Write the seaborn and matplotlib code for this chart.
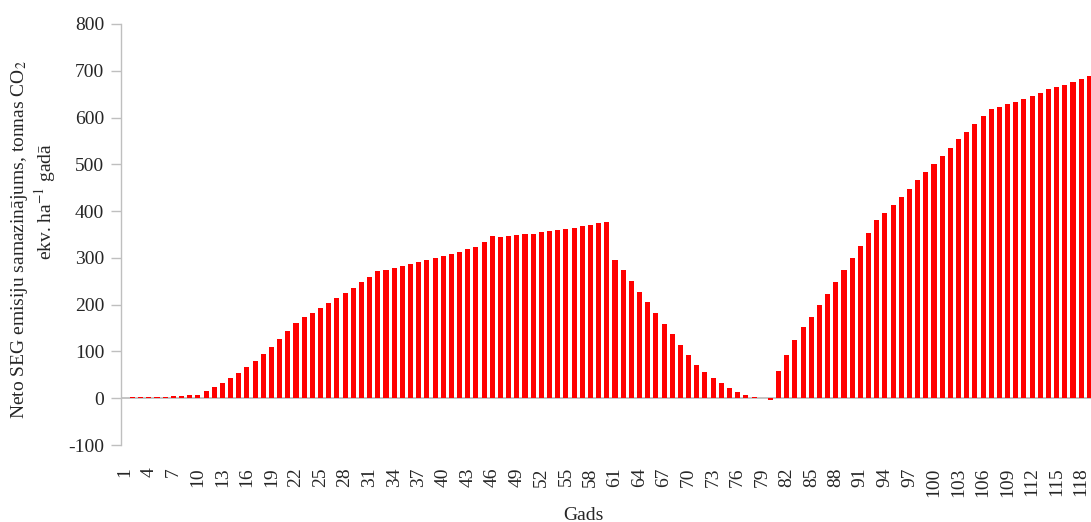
import numpy as np
import pandas as pd
import matplotlib
matplotlib.use("Agg")
import matplotlib.pyplot as plt
import seaborn as sns

# gadi un neto SEG emisiju samazinājums
years = list(range(1, 120))
reduction = [
    1, 3, 3, 3, 3, 3, 5, 5, 7, 7,
    16, 24, 33, 43, 54, 67, 80, 95, 110, 127,
    144, 161, 174, 183, 193, 204, 215, 225, 236, 249,
    260, 272, 275, 279, 283, 287, 292, 296, 300, 304,
    309, 313, 319, 324, 334, 347, 345, 347, 349, 351,
    351, 356, 358, 360, 362, 364, 369, 371, 375, 377,
    296, 275, 251, 227, 206, 183, 159, 138, 114, 93,
    71, 56, 44, 33, 22, 14, 7, 3, 1, -3,
    58, 93, 125, 153, 174, 200, 223, 249, 275, 300,
    326, 354, 381, 396, 414, 431, 448, 467, 484, 501,
    518, 535, 555, 570, 587, 604, 619, 623, 630, 634,
    640, 647, 653, 660, 666, 670, 677, 683, 689,
]
ylabel_line1 = "Neto SEG emisiju samazinājums, tonnas CO$_2$"
ylabel_line2 = "ekv. ha$^{-1}$ gadā"
xlabel = "Gads"

df = pd.DataFrame({"Gads": years, "Samazinajums": reduction})

sns.set_style("white")
plt.rcParams["font.family"] = ["Liberation Serif", "DejaVu Serif"]
plt.rcParams["mathtext.fontset"] = "stix"
plt.rcParams["axes.unicode_minus"] = False

fig = plt.figure(figsize=(10.91, 5.22), dpi=100)
ax = fig.add_axes([121 / 1091, 77 / 522, 970 / 1091, 421 / 522])

ax.axhline(0, color="#BFBFBF", lw=1.3, zorder=0.5)
sns.barplot(data=df, x="Gads", y="Samazinajums", color="#FF0000",
            saturation=1, width=0.62, linewidth=0, ax=ax, zorder=2)

ax.set_ylim(-100, 800)
ax.set_yticks(np.arange(-100, 801, 100))
ax.set_xlim(-0.4, 118.2)
ax.set_xticks(range(0, len(years), 3))
ax.set_xticklabels([str(y) for y in years[::3]], rotation=90)

for s in ["top", "right", "bottom"]:
    ax.spines[s].set_visible(False)
ax.spines["left"].set_color("#BFBFBF")
ax.spines["left"].set_linewidth(1.0)
ax.tick_params(axis="y", direction="out", length=7, width=1, color="#BFBFBF",
               labelsize=14, pad=5, left=True)
ax.tick_params(axis="x", length=0, labelsize=14, pad=16)
ax.set_xlabel("")
ax.set_ylabel("")

fig.text(20 / 1091, 1 - 240 / 522, ylabel_line1, rotation=90, fontsize=14,
         ha="center", va="center")
fig.text(45 / 1091, 1 - 201 / 522, ylabel_line2, rotation=90, fontsize=14,
         ha="center", va="center")
fig.text(583 / 1091, 1 - 515 / 522, xlabel, fontsize=14, ha="center", va="center")

fig.savefig("out.png", dpi=100)
